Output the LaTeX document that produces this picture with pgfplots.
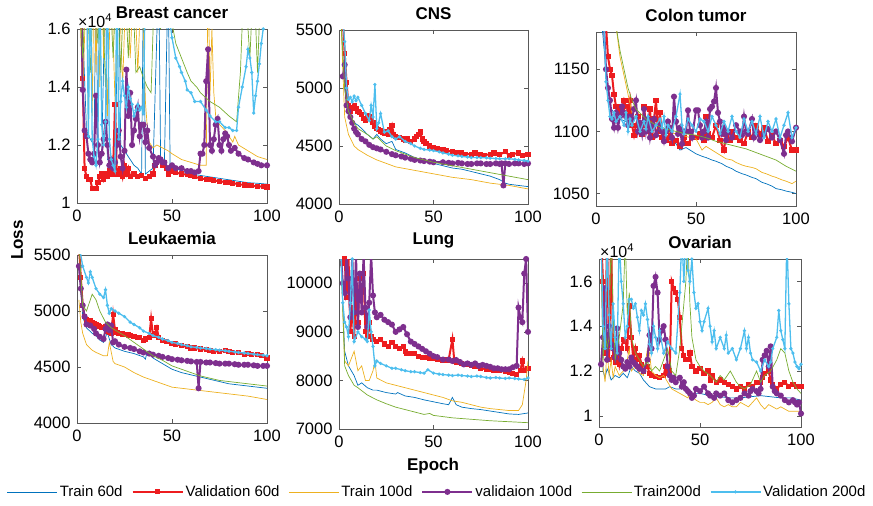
\documentclass[border=0pt]{standalone}
\usepackage{pgfplots}
\pgfplotsset{compat=1.18}
\usepackage{fontspec}
\setmainfont{Liberation Sans}

\definecolor{c1}{rgb}{0,0.447,0.741}
\definecolor{c2}{rgb}{0.93,0.11,0.12}
\definecolor{c3}{rgb}{0.929,0.694,0.125}
\definecolor{c4}{rgb}{0.494,0.184,0.556}
\definecolor{c5}{rgb}{0.466,0.674,0.188}
\definecolor{c6}{rgb}{0.301,0.745,0.933}

\pgfplotsset{
  panel/.style={scale only axis, anchor=south west, xmin=0, xmax=100, xtick={0,50,100},
    tick align=inside, major tick length=4pt, clip mode=individual,
    axis line style={black!65}, every tick/.style={black!65},
    ticklabel style={font=\fontsize{16.5}{19}\selectfont},
    xticklabel style={yshift=-3pt}, yticklabel style={xshift=-3pt},
    /pgf/number format/assume math mode=true, /pgf/number format/1000 sep={},
    scaled ticks=false,
    title style={font=\fontsize{17}{20}\selectfont\bfseries, yshift=1pt}},
  tr60/.style={c1, line width=0.7pt, no marks},
  va60/.style={c2, line width=2pt, mark=square*, mark size=1.6pt},
  tr100/.style={c3, line width=0.7pt, no marks},
  va100/.style={c4, line width=2pt, mark=*, mark size=2pt},
  tr200/.style={c5, line width=0.7pt, no marks},
  va200/.style={c6, line width=1.3pt, mark=*, mark size=0.9pt},
}

\begin{document}
\begin{tikzpicture}
\path[use as bounding box] (0pt,0pt) rectangle (873pt,506pt);

% Breast cancer
\begin{axis}[panel, at={(77pt,303pt)}, width=190pt, height=174pt,
  ymin=1, ymax=1.6, ytick={1,1.2,1.4,1.6}, title={Breast cancer}]
\addplot[tr60] coordinates {(1,1.8)(3,1.6)(5,1.25)(7,1.22)(9,1.2)(10,1.8)(11,1.18)(13,1.16)(15,1.8)(16,1.15)(18,1.14)(20,1.13)(22,1.8)(23,1.2)(25,1.18)(28,1.15)(30,1.13)(32,1.12)(34,1.1)(35,1.8)(36,1.1)(38,1.11)(40,1.12)(43,1.8)(44,1.15)(46,1.14)(48,1.8)(49,1.13)(52,1.12)(55,1.11)(60,1.1)(65,1.095)(70,1.09)(75,1.085)(80,1.08)(85,1.075)(90,1.07)(95,1.068)(100,1.065)};
\addplot[va60] coordinates {(1,1.8)(2,1.8)(3,1.43)(4,1.12)(5,1.09)(6,1.08)(7,1.08)(8,1.05)(9,1.05)(10,1.05)(11,1.07)(12,1.09)(13,1.1)(14,1.08)(15,1.1)(16,1.09)(17,1.11)(18,1.1)(19,1.12)(20,1.34)(21,1.1)(22,1.11)(23,1.12)(24,1.09)(25,1.13)(26,1.1)(27,1.12)(28,1.09)(30,1.1)(32,1.09)(34,1.095)(36,1.085)(38,1.09)(40,1.1)(41,1.13)(42,1.14)(44,1.15)(45,1.13)(46,1.14)(47,1.12)(48,1.1)(50,1.11)(52,1.105)(55,1.1)(58,1.098)(60,1.095)(62,1.09)(65,1.085)(68,1.082)(70,1.08)(72,1.078)(75,1.075)(78,1.072)(80,1.07)(82,1.068)(85,1.065)(88,1.062)(90,1.06)(92,1.059)(95,1.058)(98,1.056)(100,1.055)};
\addplot[tr100] coordinates {(1,1.8)(3,1.35)(5,1.8)(6,1.25)(7,1.8)(8,1.3)(9,1.8)(10,1.45)(11,1.8)(12,1.4)(13,1.8)(14,1.5)(15,1.8)(16,1.3)(18,1.8)(20,1.35)(22,1.8)(24,1.4)(26,1.8)(28,1.5)(30,1.8)(32,1.45)(34,1.8)(36,1.35)(37,1.26)(38,1.21)(40,1.19)(42,1.2)(45,1.19)(48,1.18)(50,1.17)(55,1.15)(60,1.14)(65,1.13)(68,1.13)(69,1.8)(70,1.37)(71,1.6)(72,1.38)(73,1.3)(75,1.27)(78,1.25)(80,1.23)(82,1.21)(83,1.23)(85,1.2)(90,1.18)(95,1.16)(100,1.15)};
\addplot[va100] coordinates {(2,1.8)(3,1.39)(4,1.25)(5,1.23)(6,1.17)(7,1.15)(8,1.14)(9,1.17)(10,1.37)(11,1.2)(12,1.14)(13,1.17)(14,1.22)(15,1.28)(16,1.2)(17,1.13)(18,1.15)(19,1.12)(20,1.14)(21,1.2)(22,1.25)(23,1.16)(24,1.12)(25,1.18)(26,1.46)(27,1.3)(28,1.38)(29,1.2)(30,1.25)(31,1.29)(32,1.33)(33,1.23)(34,1.27)(35,1.27)(36,1.21)(37,1.25)(38,1.19)(40,1.16)(41,1.13)(42,1.14)(43,1.155)(44,1.15)(45,1.14)(46,1.14)(48,1.12)(50,1.13)(52,1.12)(55,1.12)(58,1.11)(60,1.11)(62,1.105)(64,1.11)(65,1.17)(66,1.17)(67,1.2)(68,1.42)(69,1.53)(70,1.2)(71,1.18)(72,1.22)(73,1.27)(74,1.29)(75,1.2)(76,1.18)(77,1.22)(78,1.24)(79,1.23)(80,1.2)(81,1.18)(83,1.19)(85,1.17)(88,1.155)(90,1.15)(93,1.14)(95,1.135)(97,1.13)(100,1.13)};
\addplot[tr200] coordinates {(1,1.8)(3,1.5)(5,1.8)(7,1.45)(9,1.8)(11,1.55)(13,1.8)(15,1.4)(17,1.8)(19,1.5)(21,1.8)(23,1.45)(25,1.8)(27,1.5)(29,1.8)(31,1.45)(33,1.47)(35,1.43)(37,1.4)(39,1.38)(41,1.8)(44,1.6)(46,1.8)(50,1.62)(52,1.55)(55,1.5)(58,1.45)(60,1.42)(63,1.4)(65,1.38)(70,1.35)(75,1.33)(80,1.3)(84,1.28)(86,1.45)(88,1.8)(91,1.5)(93,1.8)(95,1.45)(97,1.8)(100,1.8)};
\addplot[va200] coordinates {(1,1.8)(3,1.8)(5,1.8)(6,1.23)(7,1.8)(8,1.22)(9,1.16)(10,1.13)(11,1.22)(12,1.8)(13,1.27)(14,1.2)(15,1.28)(16,1.8)(17,1.22)(18,1.15)(19,1.13)(20,1.11)(21,1.8)(22,1.22)(23,1.35)(24,1.42)(25,1.37)(26,1.33)(27,1.4)(28,1.36)(29,1.34)(30,1.3)(31,1.32)(32,1.34)(33,1.32)(34,1.33)(35,1.31)(36,1.8)(38,1.8)(40,1.8)(42,1.8)(44,1.8)(46,1.8)(48,1.8)(49,1.62)(50,1.57)(52,1.5)(54,1.47)(55,1.45)(57,1.42)(58,1.39)(60,1.38)(62,1.35)(65,1.35)(68,1.32)(70,1.3)(73,1.28)(75,1.28)(78,1.26)(80,1.26)(82,1.25)(84,1.25)(85,1.33)(87,1.4)(89,1.47)(90,1.53)(91,1.5)(92,1.45)(93,1.31)(94,1.37)(95,1.42)(96,1.48)(97,1.55)(98,1.6)(100,1.8)};
\node[anchor=south west, inner sep=1pt, font=\fontsize{16}{18}\selectfont] at (rel axis cs:0,1) {×10\textsuperscript{4}};
\end{axis}

% CNS
\begin{axis}[panel, at={(339pt,302pt)}, width=189pt, height=174pt,
  ymin=4000, ymax=5500, ytick={4000,4500,5000,5500}, title={CNS}]
\addplot[tr60] coordinates {(1,5600)(3,5000)(5,4750)(8,4700)(10,4680)(12,4650)(15,4600)(18,4560)(20,4600)(22,4560)(25,4520)(28,4540)(30,4470)(35,4440)(40,4400)(45,4380)(50,4350)(55,4330)(60,4310)(65,4300)(70,4280)(75,4260)(80,4240)(85,4210)(88,4180)(90,4170)(95,4160)(100,4150)};
\addplot[va60] coordinates {(2,5600)(3,5300)(4,5050)(5,4850)(6,4800)(7,4830)(8,4850)(9,4820)(10,4800)(11,4790)(12,4770)(13,4740)(14,4720)(15,4760)(16,4750)(17,4740)(18,4700)(19,4670)(20,4650)(21,4640)(22,4630)(23,4620)(24,4610)(25,4620)(26,4600)(27,4640)(28,4680)(29,4600)(30,4580)(32,4570)(34,4560)(35,4550)(36,4560)(38,4540)(40,4560)(41,4580)(42,4600)(43,4620)(44,4560)(45,4540)(46,4520)(48,4500)(50,4490)(52,4480)(55,4470)(57,4460)(60,4450)(62,4445)(65,4440)(67,4430)(70,4430)(72,4440)(75,4430)(77,4420)(80,4430)(82,4440)(85,4425)(88,4450)(90,4420)(92,4430)(95,4440)(97,4420)(100,4430)};
\addplot[tr100] coordinates {(1,5600)(3,4750)(5,4600)(8,4500)(10,4470)(15,4420)(20,4380)(25,4350)(30,4320)(40,4290)(50,4260)(60,4230)(70,4210)(80,4180)(90,4160)(100,4130)};
\addplot[va100] coordinates {(2,5100)(3,5200)(4,4850)(5,4800)(6,4750)(7,4700)(8,4650)(9,4620)(10,4600)(12,4560)(14,4540)(16,4510)(18,4490)(20,4480)(22,4470)(25,4450)(28,4430)(30,4420)(33,4410)(35,4400)(38,4390)(40,4380)(43,4375)(45,4370)(48,4365)(50,4360)(55,4360)(58,4355)(60,4350)(63,4355)(65,4350)(68,4345)(70,4345)(73,4350)(75,4350)(78,4345)(80,4345)(83,4350)(85,4345)(86,4350)(87,4160)(88,4350)(90,4345)(93,4350)(95,4350)(98,4345)(100,4350)};
\addplot[tr200] coordinates {(1,5600)(3,5000)(5,4800)(8,4700)(10,4650)(15,4600)(18,4560)(20,4580)(25,4500)(30,4460)(35,4430)(40,4400)(50,4360)(60,4330)(70,4300)(80,4270)(90,4240)(100,4210)};
\addplot[va200] coordinates {(2,5600)(3,5400)(4,5000)(5,4900)(6,4920)(7,4880)(8,4930)(9,4890)(10,4920)(12,4850)(14,4780)(16,4720)(17,4850)(18,4750)(19,5030)(20,4650)(21,4700)(22,4780)(24,4620)(26,4630)(28,4580)(30,4560)(32,4580)(35,4540)(38,4520)(40,4500)(43,4480)(45,4470)(48,4465)(50,4460)(53,4450)(55,4440)(58,4430)(60,4420)(63,4415)(65,4410)(68,4405)(70,4400)(73,4400)(75,4400)(78,4398)(80,4395)(83,4392)(85,4390)(88,4390)(90,4390)(93,4385)(95,4380)(98,4375)(100,4370)};
\end{axis}

% Colon tumor
\begin{axis}[panel, at={(596pt,300pt)}, width=200pt, height=174pt,
  ymin=1040, ymax=1180, ytick={1050,1100,1150}, title={Colon tumor}]
\addplot[tr60] coordinates {(3,1185)(5,1150)(7,1120)(10,1112)(12,1110)(15,1108)(18,1106)(20,1105)(23,1102)(25,1100)(28,1098)(30,1097)(33,1095)(35,1093)(38,1092)(40,1090)(42,1085)(45,1087)(48,1084)(50,1082)(53,1080)(55,1079)(58,1077)(60,1076)(63,1074)(65,1072)(68,1070)(70,1068)(73,1066)(75,1065)(78,1063)(80,1062)(83,1059)(85,1058)(88,1056)(90,1054)(93,1053)(95,1052)(98,1051)(100,1050)};
\addplot[va60] coordinates {(5,1185)(6,1160)(7,1150)(8,1145)(9,1130)(10,1120)(11,1115)(12,1120)(13,1118)(14,1125)(15,1120)(16,1115)(17,1125)(18,1105)(19,1097)(20,1105)(21,1112)(22,1100)(23,1098)(24,1120)(25,1105)(26,1100)(27,1118)(28,1095)(29,1110)(30,1125)(31,1100)(32,1115)(33,1095)(34,1100)(35,1093)(36,1095)(37,1100)(38,1090)(40,1093)(42,1088)(44,1095)(45,1090)(46,1090)(48,1095)(50,1095)(52,1098)(54,1093)(55,1112)(56,1098)(58,1095)(60,1105)(62,1093)(64,1085)(65,1098)(67,1093)(68,1100)(70,1095)(72,1093)(74,1090)(76,1100)(78,1095)(80,1105)(82,1098)(84,1103)(86,1092)(88,1097)(90,1090)(92,1093)(94,1088)(96,1095)(98,1085)(100,1085)};
\addplot[tr100] coordinates {(10,1185)(12,1160)(14,1145)(16,1130)(18,1115)(20,1110)(25,1105)(30,1102)(35,1100)(40,1098)(45,1096)(50,1094)(53,1085)(55,1088)(58,1085)(60,1083)(63,1080)(65,1078)(68,1077)(70,1075)(73,1073)(75,1072)(78,1071)(80,1070)(83,1067)(85,1066)(88,1064)(90,1063)(93,1061)(95,1060)(98,1058)(100,1060)};
\addplot[va100] coordinates {(4,1185)(5,1150)(6,1135)(7,1125)(8,1110)(9,1103)(10,1115)(11,1103)(12,1112)(13,1120)(14,1115)(15,1112)(16,1105)(17,1112)(18,1110)(19,1118)(20,1125)(21,1100)(22,1107)(23,1098)(24,1118)(25,1100)(26,1110)(27,1095)(28,1105)(29,1110)(30,1097)(32,1105)(33,1100)(34,1092)(35,1100)(36,1108)(37,1103)(38,1095)(39,1128)(40,1108)(41,1098)(42,1103)(43,1090)(44,1100)(45,1100)(46,1117)(47,1100)(48,1095)(50,1117)(51,1117)(52,1105)(53,1095)(54,1100)(55,1108)(56,1095)(57,1118)(58,1120)(59,1124)(60,1135)(61,1115)(62,1108)(63,1098)(64,1103)(65,1093)(66,1100)(68,1095)(70,1105)(72,1100)(73,1097)(74,1112)(75,1100)(76,1098)(78,1110)(79,1095)(80,1100)(82,1093)(84,1098)(86,1102)(88,1095)(90,1100)(92,1093)(94,1082)(95,1097)(96,1100)(98,1092)(100,1103)};
\addplot[tr200] coordinates {(10,1185)(12,1165)(14,1150)(16,1135)(18,1125)(20,1118)(25,1110)(30,1105)(35,1102)(40,1100)(45,1098)(50,1097)(55,1095)(60,1092)(65,1090)(70,1088)(75,1086)(80,1083)(85,1080)(90,1077)(95,1072)(100,1068)};
\addplot[va200] coordinates {(4,1185)(5,1140)(6,1125)(7,1112)(8,1110)(9,1115)(10,1108)(12,1112)(14,1105)(15,1115)(16,1100)(17,1110)(18,1105)(20,1112)(22,1100)(24,1108)(25,1102)(26,1112)(28,1100)(30,1105)(32,1110)(33,1103)(34,1112)(35,1097)(36,1105)(38,1100)(40,1112)(42,1130)(43,1105)(44,1098)(46,1110)(48,1105)(50,1100)(52,1110)(54,1108)(56,1100)(58,1112)(60,1105)(62,1098)(64,1108)(66,1100)(68,1112)(70,1100)(72,1095)(74,1110)(76,1100)(78,1108)(80,1098)(82,1112)(84,1095)(86,1108)(88,1100)(90,1110)(92,1095)(94,1105)(96,1115)(98,1095)(100,1103)};
\end{axis}

% Leukaemia
\begin{axis}[panel, at={(77pt,83pt)}, width=190pt, height=168pt,
  ymin=4000, ymax=5500, ytick={4000,4500,5000,5500}, title={Leukaemia}]
\addplot[tr60] coordinates {(1,5600)(2,5200)(3,4950)(5,4850)(8,4800)(10,4780)(12,4740)(14,4720)(16,4810)(17,4750)(18,4700)(20,4670)(25,4640)(30,4620)(35,4590)(36,4570)(37,4640)(40,4580)(45,4530)(50,4480)(55,4450)(60,4430)(65,4410)(70,4390)(75,4370)(80,4350)(85,4340)(90,4330)(95,4320)(100,4310)};
\addplot[va60] coordinates {(1,5600)(2,5300)(3,5050)(4,4950)(5,4920)(6,4900)(7,4910)(8,4900)(9,4890)(10,4880)(11,4870)(12,4860)(13,4855)(14,4850)(15,4860)(16,4820)(17,4810)(18,4800)(19,4970)(20,4830)(21,4810)(22,4800)(24,4795)(25,4790)(27,4785)(28,4780)(30,4770)(32,4765)(33,4760)(35,4740)(36,4750)(38,4760)(39,4930)(40,4780)(41,4800)(42,4850)(43,4760)(45,4740)(47,4730)(50,4710)(52,4705)(55,4690)(58,4680)(60,4670)(62,4670)(65,4660)(68,4655)(70,4650)(72,4640)(75,4640)(78,4645)(80,4640)(82,4630)(85,4630)(88,4610)(90,4620)(92,4615)(95,4610)(97,4600)(100,4580)};
\addplot[tr100] coordinates {(1,5100)(2,4900)(3,4800)(5,4700)(8,4650)(10,4630)(14,4600)(16,4600)(17,4720)(19,4550)(20,4530)(25,4500)(30,4450)(35,4410)(40,4380)(45,4350)(50,4320)(60,4300)(70,4280)(80,4260)(90,4240)(100,4210)};
\addplot[va100] coordinates {(1,5400)(2,5200)(3,5050)(4,4950)(5,4880)(7,4870)(9,4840)(10,4800)(12,4770)(14,4750)(15,4840)(16,4880)(17,4830)(18,4870)(19,4720)(20,4730)(22,4700)(25,4680)(28,4670)(30,4660)(33,4640)(35,4630)(38,4620)(40,4610)(43,4600)(45,4590)(48,4580)(50,4570)(53,4565)(55,4560)(58,4555)(60,4550)(63,4545)(64,4310)(65,4545)(68,4540)(70,4540)(73,4535)(75,4530)(78,4530)(80,4530)(83,4525)(85,4520)(88,4520)(90,4520)(93,4515)(95,4510)(98,4510)(100,4510)};
\addplot[tr200] coordinates {(1,5600)(3,5050)(5,5000)(7,5100)(8,5150)(10,5100)(12,5000)(15,4900)(18,4850)(20,4830)(25,4780)(30,4720)(35,4660)(40,4600)(45,4560)(50,4510)(55,4480)(60,4450)(65,4420)(70,4400)(75,4380)(80,4370)(85,4360)(90,4350)(95,4340)(100,4330)};
\addplot[va200] coordinates {(1,5600)(3,5400)(5,5300)(6,5250)(7,5350)(8,5300)(10,5200)(12,5150)(14,5120)(15,5190)(16,5050)(17,4980)(18,5020)(20,5000)(22,4980)(25,4950)(28,4900)(30,4880)(33,4850)(35,4820)(38,4800)(40,4780)(43,4765)(45,4750)(48,4735)(50,4720)(53,4710)(55,4700)(58,4690)(60,4680)(63,4675)(65,4670)(68,4665)(70,4660)(73,4655)(75,4650)(78,4645)(80,4640)(83,4635)(85,4630)(88,4625)(90,4620)(93,4615)(95,4610)(98,4605)(100,4600)};
\end{axis}

% Lung
\begin{axis}[panel, at={(339pt,77pt)}, width=189pt, height=170pt,
  ymin=7000, ymax=10500, ytick={7000,8000,9000,10000}, title={Lung},
  legend columns=6,
  legend style={at={(0.52,-0.37)}, anchor=center, draw=none, fill=none,
    font=\fontsize{15}{18}\selectfont, inner sep=0pt, nodes={inner sep=2pt},
    /tikz/every even column/.append style={column sep=7pt}},
  legend image code/.code={\draw[mark repeat=2,mark phase=2,#1] plot coordinates {(0pt,0pt)(25pt,0pt)(50pt,0pt)};}]
\addplot[tr60] coordinates {(1,10600)(3,8600)(5,8300)(8,8100)(10,7900)(12,7950)(15,7850)(18,7800)(20,7800)(25,7750)(30,7720)(31,7750)(35,7680)(40,7650)(45,7600)(50,7560)(55,7520)(58,7500)(60,7650)(62,7500)(65,7450)(70,7420)(75,7400)(80,7370)(85,7340)(90,7310)(95,7300)(100,7330)};
\addlegendentry{Train 60d}
\addplot[va60] coordinates {(1,10600)(2,10400)(3,10500)(4,9700)(5,10600)(6,9000)(7,9500)(8,8900)(9,9800)(10,9200)(11,10100)(12,10100)(13,10200)(14,9000)(15,8900)(16,9200)(17,8900)(18,8850)(20,8800)(22,8850)(24,8750)(26,8700)(28,8780)(30,8700)(32,8650)(34,8700)(35,8600)(36,8550)(38,8550)(40,8550)(42,8500)(44,8480)(46,8480)(48,8450)(50,8450)(52,8430)(55,8420)(58,8420)(60,8850)(61,8400)(62,8380)(65,8350)(68,8330)(70,8300)(72,8280)(75,8250)(78,8230)(80,8220)(82,8200)(85,8200)(88,8180)(90,8170)(92,8150)(94,8130)(96,8200)(97,8400)(98,8200)(100,8250)};
\addlegendentry{Validation 60d}
\addplot[tr100] coordinates {(1,10600)(3,8400)(5,8300)(8,8600)(10,8200)(12,8300)(14,8000)(16,8000)(18,8200)(19,8400)(20,8050)(25,7950)(30,7900)(35,7850)(40,7800)(45,7750)(50,7700)(55,7650)(60,7580)(65,7550)(70,7500)(75,7450)(80,7420)(85,7400)(90,7380)(95,7380)(97,7500)(99,8000)(100,8400)};
\addlegendentry{Train 100d}
\addplot[va100] coordinates {(1,10600)(2,10000)(3,9800)(4,10600)(5,10100)(6,9300)(7,10600)(8,9400)(9,10600)(10,9100)(11,10200)(12,9400)(13,10600)(14,9500)(15,9100)(16,9600)(17,10600)(18,9750)(19,9400)(20,9300)(22,9350)(24,9250)(26,9200)(28,9150)(30,9000)(32,9050)(34,9100)(36,8950)(38,8800)(40,8750)(42,8700)(44,8650)(46,8600)(48,8550)(50,8500)(52,8480)(55,8430)(58,8430)(60,8400)(62,8420)(64,8380)(66,8330)(68,8350)(70,8320)(72,8350)(74,8300)(76,8320)(78,8300)(80,8280)(82,8250)(84,8250)(86,8230)(88,8230)(90,8230)(92,8270)(94,8300)(95,9500)(96,9300)(97,9200)(98,10200)(99,10500)(100,9000)};
\addlegendentry{validaion 100d}
\addplot[tr200] coordinates {(1,10600)(3,8300)(5,8100)(8,7900)(10,7850)(15,7700)(20,7600)(25,7520)(30,7450)(35,7400)(40,7350)(45,7300)(48,7320)(50,7280)(60,7230)(70,7200)(80,7170)(90,7150)(100,7130)};
\addlegendentry{Train200d}
\addplot[va200] coordinates {(1,10600)(2,9600)(3,9200)(4,9100)(5,8900)(6,9600)(7,10500)(8,8800)(10,9000)(12,8900)(14,8850)(15,8800)(16,9450)(17,9000)(18,8700)(19,8300)(20,8400)(22,8350)(25,8300)(28,8250)(30,8250)(33,8220)(35,8200)(38,8180)(40,8180)(43,8160)(45,8150)(47,8220)(50,8150)(53,8130)(55,8120)(58,8110)(60,8100)(63,8110)(65,8100)(68,8090)(70,8080)(73,8090)(75,8080)(78,8060)(80,8050)(83,8060)(85,8050)(88,8040)(90,8050)(93,8040)(95,8030)(98,8020)(100,8050)};
\addlegendentry{Validation 200d}
\end{axis}

% Ovarian
\begin{axis}[panel, at={(599pt,79pt)}, width=202pt, height=168pt,
  ymin=0.95, ymax=1.7, ytick={1,1.2,1.4,1.6}, title={Ovarian}]
\addplot[tr60] coordinates {(1,1.8)(2,1.2)(3,1.17)(4,1.21)(5,1.19)(6,1.16)(8,1.18)(10,1.17)(12,1.19)(14,1.17)(16,1.22)(18,1.2)(20,1.19)(22,1.16)(25,1.13)(28,1.12)(30,1.12)(33,1.12)(35,1.13)(38,1.12)(40,1.12)(42,1.13)(44,1.11)(46,1.1)(50,1.1)(55,1.09)(60,1.085)(65,1.08)(70,1.08)(75,1.085)(80,1.09)(85,1.085)(90,1.08)(95,1.08)(100,1.07)};
\addplot[va60] coordinates {(1,1.8)(2,1.6)(3,1.28)(4,1.8)(5,1.25)(6,1.8)(7,1.26)(8,1.24)(9,1.28)(10,1.23)(11,1.3)(12,1.34)(13,1.33)(14,1.3)(15,1.49)(16,1.35)(17,1.25)(18,1.3)(19,1.25)(20,1.27)(21,1.23)(22,1.2)(24,1.22)(25,1.19)(26,1.18)(28,1.175)(30,1.17)(32,1.18)(33,1.22)(34,1.19)(35,1.2)(36,1.6)(37,1.57)(38,1.55)(39,1.52)(40,1.44)(41,1.3)(42,1.27)(43,1.25)(44,1.25)(45,1.28)(46,1.22)(48,1.2)(50,1.21)(52,1.19)(54,1.2)(55,1.16)(56,1.18)(58,1.15)(60,1.16)(62,1.15)(64,1.14)(66,1.13)(68,1.12)(70,1.13)(72,1.12)(74,1.14)(76,1.13)(78,1.15)(80,1.15)(81,1.17)(82,1.19)(84,1.2)(85,1.16)(86,1.14)(88,1.12)(90,1.14)(92,1.15)(94,1.13)(96,1.14)(98,1.13)(100,1.13)};
\addplot[tr100] coordinates {(1,1.8)(2,1.22)(3,1.15)(4,1.3)(5,1.18)(6,1.25)(7,1.17)(8,1.22)(10,1.18)(12,1.2)(14,1.25)(15,1.3)(16,1.2)(18,1.22)(20,1.19)(22,1.18)(24,1.3)(25,1.28)(26,1.2)(28,1.18)(30,1.17)(32,1.18)(34,1.15)(36,1.12)(38,1.11)(40,1.1)(42,1.09)(44,1.08)(45,1.1)(46,1.09)(48,1.07)(50,1.06)(52,1.06)(54,1.05)(56,1.06)(58,1.08)(60,1.05)(62,1.04)(64,1.05)(66,1.04)(68,1.04)(70,1.06)(72,1.05)(74,1.04)(76,1.06)(78,1.08)(80,1.05)(82,1.03)(84,1.05)(86,1.04)(88,1.03)(90,1.04)(92,1.03)(94,1.02)(96,1.02)(98,1.02)(100,1.02)};
\addplot[va100] coordinates {(1,1.23)(2,1.35)(3,1.57)(4,1.25)(5,1.4)(6,1.32)(7,1.3)(8,1.26)(9,1.39)(10,1.28)(11,1.25)(12,1.22)(13,1.21)(14,1.24)(15,1.22)(16,1.26)(17,1.24)(18,1.23)(19,1.22)(20,1.21)(22,1.2)(24,1.25)(25,1.36)(26,1.3)(27,1.58)(28,1.62)(29,1.55)(30,1.34)(31,1.38)(32,1.4)(33,1.34)(34,1.22)(35,1.18)(36,1.16)(37,1.17)(38,1.15)(40,1.17)(41,1.13)(42,1.15)(43,1.12)(44,1.11)(45,1.1)(46,1.08)(47,1.09)(48,1.12)(50,1.11)(52,1.13)(54,1.1)(55,1.09)(57,1.08)(58,1.1)(60,1.09)(62,1.1)(64,1.07)(66,1.06)(68,1.07)(70,1.08)(72,1.1)(74,1.09)(75,1.11)(76,1.12)(78,1.11)(79,1.1)(80,1.12)(81,1.25)(82,1.27)(83,1.29)(84,1.22)(85,1.31)(86,1.13)(87,1.11)(88,1.1)(90,1.09)(92,1.07)(94,1.06)(96,1.07)(97,1.06)(98,1.05)(99,1.06)(100,1.01)};
\addplot[tr200] coordinates {(1,1.8)(2,1.25)(3,1.4)(4,1.3)(5,1.35)(6,1.8)(7,1.45)(8,1.25)(10,1.35)(12,1.5)(13,1.8)(14,1.45)(15,1.55)(16,1.35)(18,1.28)(20,1.25)(22,1.22)(24,1.24)(26,1.2)(28,1.22)(30,1.2)(32,1.25)(34,1.3)(36,1.2)(38,1.18)(40,1.3)(42,1.5)(43,1.6)(44,1.8)(45,1.5)(46,1.35)(48,1.25)(50,1.22)(52,1.2)(55,1.18)(58,1.15)(60,1.18)(62,1.16)(65,1.2)(68,1.15)(70,1.13)(72,1.12)(75,1.14)(78,1.2)(80,1.15)(82,1.18)(85,1.2)(88,1.25)(90,1.3)(92,1.28)(94,1.2)(96,1.15)(98,1.12)(100,1.1)};
\addplot[va200] coordinates {(1,1.8)(2,1.4)(3,1.3)(4,1.8)(5,1.45)(6,1.3)(7,1.5)(8,1.35)(9,1.28)(10,1.8)(11,1.6)(12,1.5)(13,1.35)(14,1.4)(15,1.52)(16,1.52)(17,1.48)(18,1.5)(19,1.44)(20,1.38)(21,1.47)(22,1.45)(23,1.5)(24,1.43)(25,1.32)(26,1.28)(27,1.4)(28,1.35)(29,1.3)(30,1.38)(32,1.28)(34,1.33)(36,1.3)(38,1.28)(40,1.55)(41,1.8)(42,1.6)(43,1.8)(44,1.65)(45,1.6)(46,1.7)(47,1.55)(48,1.48)(49,1.5)(50,1.42)(51,1.38)(52,1.42)(54,1.48)(55,1.4)(56,1.33)(57,1.38)(58,1.3)(60,1.35)(62,1.3)(63,1.36)(64,1.28)(66,1.3)(68,1.25)(70,1.3)(72,1.38)(73,1.3)(74,1.35)(75,1.28)(76,1.25)(78,1.24)(80,1.2)(82,1.25)(84,1.22)(85,1.24)(86,1.3)(88,1.35)(89,1.47)(90,1.38)(91,1.34)(92,1.3)(93,1.8)(94,1.5)(95,1.3)(96,1.28)(97,1.24)(98,1.22)(99,1.21)(100,1.23)};
\node[anchor=south west, inner sep=1pt, font=\fontsize{16}{18}\selectfont] at (rel axis cs:0,1) {×10\textsuperscript{4}};
\end{axis}

\node[font=\fontsize{17}{20}\selectfont\bfseries] at (433pt,40pt) {Epoch};
\node[font=\fontsize{17}{20}\selectfont\bfseries, rotate=90] at (17pt,266pt) {Loss};
\end{tikzpicture}
\end{document}
